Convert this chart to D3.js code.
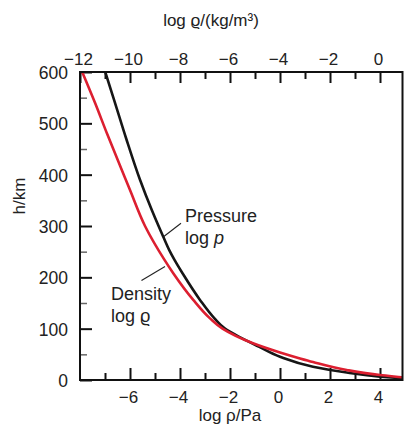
<!DOCTYPE html>
<html>
<head>
<meta charset="utf-8">
<script src="https://cdn.jsdelivr.net/npm/d3@7"></script>
<style>
  body { margin: 0; background: #fff; }
  svg { display: block; font-family: "Liberation Sans", Arial, sans-serif; }
</style>
</head>
<body>
<div id="chart"></div>
<script>
// height (km) against log pressure (Pa) and log density (kg/m3)
const pressureH   = [0,   3.3,  6.4, 14.6, 26,   45.4, 65,    82,    100,  120,   156,  208,  234,   253,   279,   330,   390,  470,   540,  600];
const pressureLog = [5.8, 4.87, 4.0, 2.67, 1.32, 0.0,  -0.85, -1.55, -2.2, -2.62, -3.2, -3.9, -4.22, -4.43, -4.67, -5.12, -5.6, -6.15, -6.6, -6.99];

const densityH   = [0,   5.3,  9.7, 19.5,  35,    42,   53.6, 71.5,  100,  120,  156,   208,   234,   300,  370,   395,    480,    540,   601];
const densityLog = [1.9, 0.87, 0.0, -1.33, -2.68, -3.2, -4.0, -5.08, -6.3, -6.8, -7.47, -8.27, -8.62, -9.4, -10.0, -10.21, -10.92, -11.4, -11.92];

const bottomMajor = [-8, -6, -4, -2, 0, 2, 4];
const bottomMinor = [-7, -5, -3, -1, 1, 3];
const topMajor = [-12, -10, -8, -6, -4, -2, 0];
const topMinor = [-11, -9, -7, -5, -3, -1];
const hMajor = [0, 100, 200, 300, 400, 500, 600];
const hMinor = [50, 150, 250, 350, 450, 550];

const width = 404, height = 428;
const plot = {left: 80, right: 402.5, top: 72, bottom: 380};

const x = d3.scaleLinear().domain([-8, 4.9]).range([plot.left, plot.right]);
const xTop = d3.scaleLinear().domain([-12, 0.9]).range([plot.left, plot.right]);
const y = d3.scaleLinear().domain([0, 600]).range([plot.bottom, plot.top]);

const fmt = d3.format("d");

const svg = d3.select("#chart").append("svg")
    .attr("width", width)
    .attr("height", height);

svg.append("defs").append("clipPath")
    .attr("id", "clip")
    .append("rect")
    .attr("x", plot.left).attr("y", plot.top)
    .attr("width", plot.right - plot.left)
    .attr("height", plot.bottom - plot.top);

// axes, ticks pointing inward
const styleAxis = (g, size) => {
    g.select(".domain").remove();
    g.selectAll(".tick line").attr("stroke", "#111").attr("stroke-width", 2);
    g.selectAll(".tick text").attr("font-size", size).attr("fill", "#222");
};

svg.append("g")
    .attr("transform", `translate(0,${plot.bottom})`)
    .call(d3.axisBottom(x).tickValues(bottomMajor.filter(d => d > -8)).tickSize(-12).tickPadding(11).tickFormat(fmt))
    .call(g => styleAxis(g, "17px"))
    .call(g => g.selectAll(".tick text").attr("dx", "-2"));
svg.append("g")
    .attr("transform", `translate(0,${plot.bottom})`)
    .call(d3.axisBottom(x).tickValues(bottomMinor).tickSize(-7).tickFormat(""))
    .call(g => styleAxis(g, "17px"));

svg.append("g")
    .attr("transform", `translate(0,${plot.top})`)
    .call(d3.axisTop(xTop).tickValues(topMajor).tickSize(-11).tickPadding(7).tickFormat(fmt))
    .call(g => styleAxis(g, "17px"))
    .call(g => g.selectAll(".tick text").attr("dx", "-2"));
svg.append("g")
    .attr("transform", `translate(0,${plot.top})`)
    .call(d3.axisTop(xTop).tickValues(topMinor).tickSize(-7).tickFormat(""))
    .call(g => styleAxis(g, "17px"));

svg.append("g")
    .attr("transform", `translate(${plot.left},0)`)
    .call(d3.axisLeft(y).tickValues(hMajor).tickSize(-12).tickPadding(12).tickFormat(fmt))
    .call(g => styleAxis(g, "17.5px"))
    .call(g => g.selectAll(".tick text").attr("dy", "0.38em"));
svg.append("g")
    .attr("transform", `translate(${plot.left},0)`)
    .call(d3.axisLeft(y).tickValues(hMinor).tickSize(-7).tickFormat(""))
    .call(g => styleAxis(g, "17px"))
    .call(g => g.selectAll(".tick line").attr("stroke", "#666").attr("stroke-width", 1.5));

// curves
const pressure = pressureH.map((h, i) => ({h: h, v: pressureLog[i]}));
const density = densityH.map((h, i) => ({h: h, v: densityLog[i]}));

const curves = svg.append("g").attr("clip-path", "url(#clip)");

curves.append("path")
    .datum(pressure)
    .attr("fill", "none")
    .attr("stroke", "#161616")
    .attr("stroke-width", 2.6)
    .attr("d", d3.line().x(d => x(d.v)).y(d => y(d.h)).curve(d3.curveMonotoneY));

curves.append("path")
    .datum(density)
    .attr("fill", "none")
    .attr("stroke", "#dc1f30")
    .attr("stroke-width", 2.6)
    .attr("d", d3.line().x(d => xTop(d.v)).y(d => y(d.h)).curve(d3.curveMonotoneY));

// frame
svg.append("rect")
    .attr("x", plot.left).attr("y", plot.top)
    .attr("width", plot.right - plot.left)
    .attr("height", plot.bottom - plot.top)
    .attr("fill", "none")
    .attr("stroke", "#111")
    .attr("stroke-width", 2);

// axis titles
svg.append("text")
    .attr("x", 211).attr("y", 26)
    .attr("text-anchor", "middle")
    .attr("font-size", "17px").attr("fill", "#222")
    .text("log ϱ/(kg/m³)");

svg.append("text")
    .attr("x", 230).attr("y", 421)
    .attr("text-anchor", "middle")
    .attr("font-size", "17px").attr("fill", "#222")
    .text("log ρ/Pa");

svg.append("text")
    .attr("transform", "translate(25,196) rotate(-90)")
    .attr("text-anchor", "middle")
    .attr("font-size", "17px").attr("fill", "#222")
    .text("h/km");

// labels with leader lines
const pAnchor = {x: x(-4.66), y: y(279)};
const dAnchor = {x: xTop(-8.6), y: y(221)};

svg.append("line")
    .attr("x1", pAnchor.x + 17.5).attr("y1", pAnchor.y - 13.5)
    .attr("x2", pAnchor.x).attr("y2", pAnchor.y)
    .attr("stroke", "#222").attr("stroke-width", 1.1);
svg.append("line")
    .attr("x1", dAnchor.x - 23.5).attr("y1", dAnchor.y + 14)
    .attr("x2", dAnchor.x).attr("y2", dAnchor.y)
    .attr("stroke", "#222").attr("stroke-width", 1.1);

const lab = svg.append("g").attr("font-size", "18px").attr("fill", "#222");
lab.append("text").attr("x", 185).attr("y", 221.5).text("Pressure");
const lp = lab.append("text").attr("x", 185).attr("y", 243.5);
lp.append("tspan").text("log ");
lp.append("tspan").attr("font-style", "italic").text("p");
lab.append("text").attr("x", 111).attr("y", 300).text("Density");
lab.append("text").attr("x", 111).attr("y", 322).text("log ϱ");
</script>
</body>
</html>
